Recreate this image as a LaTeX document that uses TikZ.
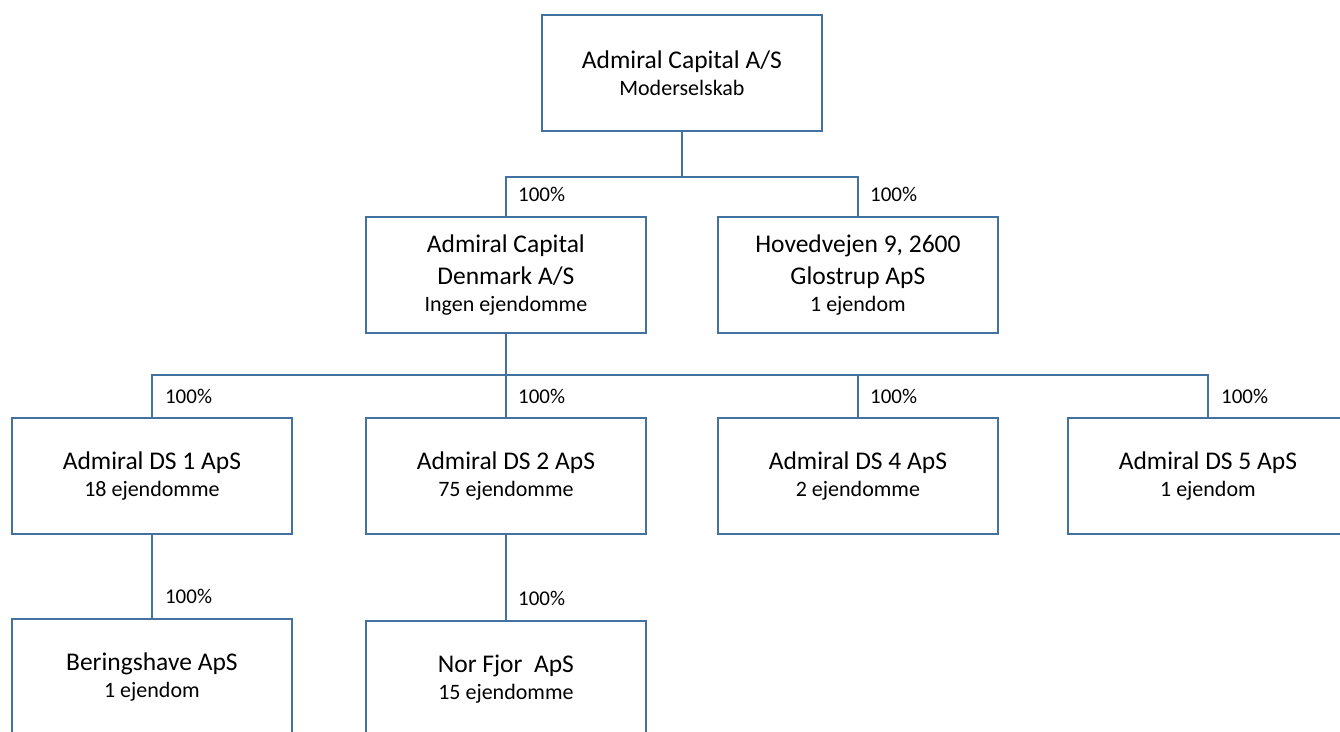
\documentclass[tikz,border=0pt]{standalone}
\usepackage{fontspec}
\setmainfont{Carlito}
\definecolor{ln}{RGB}{68,114,160}
\newcommand\subt[1]{{\fontsize{22}{22}\selectfont #1}}
\begin{document}
\begin{tikzpicture}[x=1pt,y=-1pt,
  box/.style={draw=ln, line width=1.8pt, fill=white, minimum width=280pt, minimum height=116pt,
    inner sep=0pt, align=center, font=\fontsize{25.5}{27}\selectfont, anchor=north west},
  conn/.style={draw=ln, line width=1.8pt},
  pct/.style={anchor=base west, font=\fontsize{21}{21}\selectfont, inner sep=0pt}]
\clip (0,0) rectangle (1340,731);
\fill[white] (0,0) rectangle (1340,731);
% boxes
\node[box] (top) at (541,14) {Admiral Capital A/S\\\subt{Moderselskab}};
\node[box] (den) at (365,216) {Admiral Capital\\[5pt]Denmark A/S\\\subt{Ingen ejendomme}};
\node[box] (hov) at (717,216) {Hovedvejen 9, 2600\\[5pt]Glostrup ApS\\\subt{1 ejendom}};
\node[box] (ds1) at (11,417) {Admiral DS 1 ApS\\\subt{18 ejendomme}};
\node[box] (ds2) at (365,417) {Admiral DS 2 ApS\\\subt{75 ejendomme}};
\node[box] (ds4) at (717,417) {Admiral DS 4 ApS\\\subt{2 ejendomme}};
\node[box] (ds5) at (1067,417) {Admiral DS 5 ApS\\\subt{1 ejendom}};
\node[box] (ber) at (11,618) {Beringshave ApS\\\subt{1 ejendom}};
\node[box] (nor) at (365,620) {Nor Fjor\ \ ApS\\\subt{15 ejendomme}};
% connectors
\path (top.south) ++(0,45) coordinate (b1);
\path (den.south) ++(0,41) coordinate (b2);
\draw[conn] (top.south) -- (b1);
\draw[conn] (den.north) |- (b1) -| (hov.north);
\draw[conn] (den.south) -- (b2);
\draw[conn] (ds1.north) |- (b2) -| (ds5.north);
\draw[conn] (ds2.north) -- (ds2.north |- b2);
\draw[conn] (ds4.north) -- (ds4.north |- b2);
\draw[conn] (ds1.south) -- (ber.north);
\draw[conn] (ds2.south) -- (nor.north);
% labels
\node[pct] (p1) at ([xshift=12pt,yshift=15pt]den.north) {100\%};
\node[pct] (p2) at ([xshift=12pt,yshift=15pt]hov.north) {100\%};
\node[pct] (p3) at ([xshift=13pt,yshift=14pt]ds1.north) {100\%};
\node[pct] (p4) at ([xshift=12pt,yshift=14pt]ds2.north) {100\%};
\node[pct] (p5) at ([xshift=12pt,yshift=14pt]ds4.north) {100\%};
\node[pct] (p6) at ([xshift=13pt,yshift=14pt]ds5.north) {100\%};
\node[pct] (p7) at ([xshift=13pt,yshift=15pt]ber.north) {100\%};
\node[pct] (p8) at ([xshift=12pt,yshift=15pt]nor.north) {100\%};
\end{tikzpicture}
\end{document}
